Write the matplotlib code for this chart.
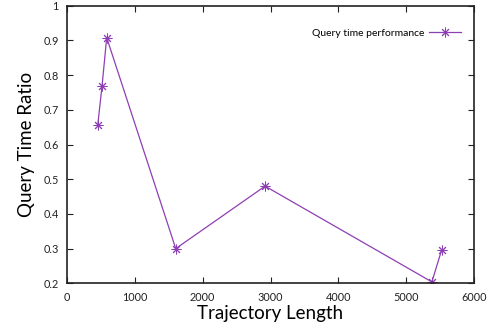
import matplotlib
matplotlib.use("Agg")
import matplotlib.pyplot as plt

traj_len = [453, 516, 585, 1603, 2920, 5379, 5521]
ratio = [0.656, 0.768, 0.908, 0.300, 0.480, 0.204, 0.295]
xticks = [0, 1000, 2000, 3000, 4000, 5000, 6000]
yticks = [0.2, 0.3, 0.4, 0.5, 0.6, 0.7, 0.8, 0.9, 1]
ytick_labels = ["0.2", "0.3", "0.4", "0.5", "0.6", "0.7", "0.8", "0.9", "1"]

plt.rcParams['font.family'] = ['Lato', 'DejaVu Sans']
fig = plt.figure(figsize=(4.91, 3.35), dpi=100)
ax = fig.add_axes([0.1365, 0.1543, 0.9654 - 0.1365, 0.983 - 0.1543])
color = '#8e3fb3'
ax.plot(traj_len, ratio, color=color, lw=0.9, marker=(8, 2, 0), ms=7,
        mew=0.7, label='Query time performance')
ax.set_xlim(0, 6000)
ax.set_ylim(0.2, 1)
ax.set_xticks(xticks)
ax.set_yticks(yticks)
ax.set_yticklabels(ytick_labels)
ax.tick_params(direction='in', top=True, right=True, labelsize=7.8, length=4,
               width=0.8, colors='#222222', pad=6)
for s in ax.spines.values():
    s.set_linewidth(1.2)
    s.set_color('#222222')
ax.set_xlabel('Trajectory Length', fontsize=13.5, labelpad=2)
ax.set_ylabel('Query Time Ratio', fontsize=13.5, labelpad=6)
leg = ax.legend(loc='upper right', frameon=False, fontsize=7.5, markerfirst=False,
                handlelength=3.0, bbox_to_anchor=(0.985, 0.945), borderaxespad=0.3,
                handletextpad=0.5)
fig.savefig('out.png', dpi=100)
